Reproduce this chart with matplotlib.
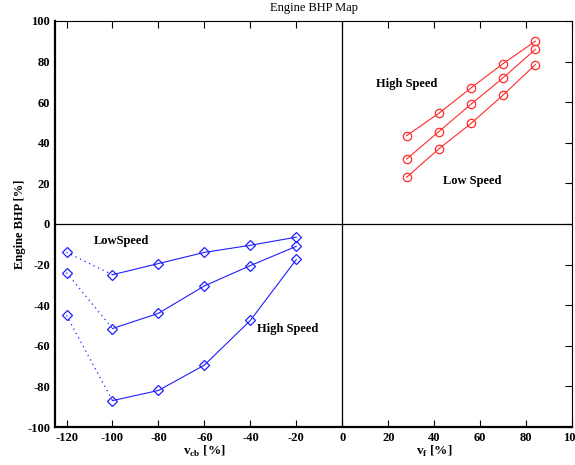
import numpy as np
import matplotlib.pyplot as plt

plt.rcParams['font.family'] = ['Liberation Serif', 'DejaVu Serif']
plt.rcParams['axes.unicode_minus'] = False

# ------------------------------------------------------------
# data read from the map
# ------------------------------------------------------------
# braking side (v_cb)
x_cb = [-100, -80, -60, -40, -20]
cb_low = [-25, -19.5, -14, -10.5, -6.5]
cb_mid = [-51.5, -44, -30.5, -20.5, -11]
cb_high = [-87, -82, -69.5, -47.5, -17.5]
# extrapolated points at -120
x_ext = -120
ext_vals = [-14, -24, -45]

# forward side (v_f)
x_f = [28, 42, 56, 70, 84]
f_high = [43.5, 54.5, 67, 79, 90]
f_mid = [32, 45.5, 59, 72, 86]
f_low = [23, 37, 49.5, 63.5, 78.5]

blue = "#1f1fff"
red = "#ff2a2a"

fig = plt.figure(figsize=(5.75, 4.65), dpi=100)
ax = fig.add_axes([0.0957, 0.0817, 0.8993, 0.8733])

for ys, e in zip([cb_low, cb_mid, cb_high], ext_vals):
    ax.plot(x_cb, ys, color=blue, lw=0.8, marker="D", ms=5,
            mfc="none", mec=blue, mew=0.9)
    ax.plot([x_ext, x_cb[0]], [e, ys[0]], color=blue, lw=0.9, ls=(0, (1, 3)))
    ax.plot([x_ext], [e], marker="D", ms=5, mfc="none", mec=blue, mew=0.9)

for ys in [f_high, f_mid, f_low]:
    ax.plot(x_f, ys, color=red, lw=0.8, marker="o", ms=6,
            mfc="none", mec=red, mew=0.9)

ax.axhline(0, color="black", lw=0.9)
ax.axvline(0, color="black", lw=0.9)

ax.set_xlim(-125, 100)
ax.set_ylim(-100, 100)
ax.set_xticks(np.arange(-120, 101, 20))
ax.set_yticks(np.arange(-100, 101, 20))
ax.tick_params(direction="in", top=True, right=True, left=False,
               length=5, labelsize=9)
for lab in ax.get_xticklabels() + ax.get_yticklabels():
    lab.set_fontweight("bold")
for side in ["left", "bottom"]:
    ax.spines[side].set_linewidth(1.6)

ax.set_title("Engine BHP Map", fontsize=9, pad=7)
ax.set_ylabel("Engine BHP [%]", fontsize=9, fontweight="bold", labelpad=1)
ax.text(-60, -108.5, r"v$_{\mathregular{cb}}$ [%]", fontsize=9.5,
        fontweight="bold", ha="center", va="top")
ax.text(40, -108.5, r"v$_{\mathregular{f}}$ [%]", fontsize=9.5,
        fontweight="bold", ha="center", va="top")

ax.text(28, 69, "High Speed", fontsize=9, fontweight="bold", ha="center", va="center")
ax.text(56.5, 21, "Low Speed", fontsize=9, fontweight="bold", ha="center", va="center")
ax.text(-96, -8.5, "LowSpeed", fontsize=9, fontweight="bold", ha="center", va="center")
ax.text(-24, -51.5, "High Speed", fontsize=9, fontweight="bold", ha="center", va="center")

plt.savefig("out.png", dpi=100)
